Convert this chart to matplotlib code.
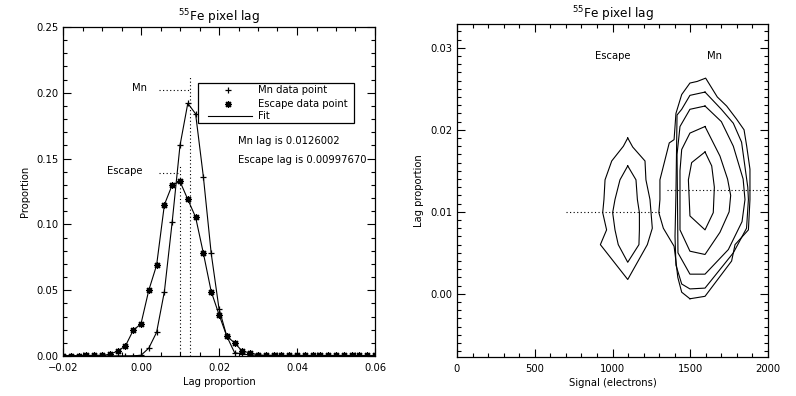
import numpy as np
import matplotlib
matplotlib.use("Agg")
import matplotlib.pyplot as plt
from matplotlib.patches import Rectangle
from matplotlib.ticker import MultipleLocator

plt.rcParams['font.family'] = ['DejaVu Sans']

# ---------------- data: left panel ----------------
lag_bins = [-0.020, -0.018, -0.016, -0.014, -0.012, -0.010, -0.008, -0.006, -0.004, -0.002,
            0.000, 0.002, 0.004, 0.006, 0.008, 0.010, 0.012, 0.014, 0.016, 0.018,
            0.020, 0.022, 0.024, 0.026, 0.028, 0.030, 0.032, 0.034, 0.036, 0.038,
            0.040, 0.042, 0.044, 0.046, 0.048, 0.050, 0.052, 0.054, 0.056, 0.058, 0.060]
mn_prop = [0.0001, 0.0001, 0.0001, 0.0001, 0.0001, 0.0001, 0.0001, 0.0001, 0.0001, 0.0002,
           0.0005, 0.006, 0.018, 0.049, 0.102, 0.160, 0.192, 0.184, 0.136, 0.078,
           0.036, 0.015, 0.0025, 0.0015, 0.0008, 0.0004, 0.0003, 0.0003, 0.0002, 0.0002,
           0.0002, 0.0002, 0.0002, 0.0002, 0.0002, 0.0002, 0.0002, 0.0002, 0.0002, 0.0002, 0.0002]
esc_prop = [0.0003, 0.0003, 0.0002, 0.0004, 0.0005, 0.0006, 0.0012, 0.0038, 0.0076, 0.0195,
            0.0245, 0.050, 0.069, 0.115, 0.130, 0.1326, 0.119, 0.1055, 0.078, 0.049,
            0.0315, 0.015, 0.010, 0.0035, 0.0025, 0.0008, 0.0005, 0.0006, 0.0004, 0.0005,
            0.0006, 0.0004, 0.0005, 0.0004, 0.0005, 0.0004, 0.0005, 0.0004, 0.0004, 0.0004, 0.0004]
peak_names = ["Mn", "Escape"]
peak_lags = [0.0126002, 0.0099767]
peak_heights = [0.1927, 0.1323]
legend_labels = ["Mn data point", "Escape data point", "Fit"]

# ---------------- data: right panel (contour paths) ----------------
esc_outer_sig = [1098, 1070, 995, 952, 945, 937, 962, 922, 1098, 1224, 1256, 1241, 1215, 1209, 1130, 1098]
esc_outer_lag = [0.0190, 0.0180, 0.0162, 0.0139, 0.0115, 0.0099, 0.0078, 0.0060, 0.00175, 0.0060, 0.0080, 0.0115, 0.0139, 0.0162, 0.0179, 0.0190]
esc_inner_sig = [1098, 1048, 1016, 1001, 1016, 1037, 1098, 1170, 1173, 1173, 1160, 1151, 1098]
esc_inner_lag = [0.0156, 0.0139, 0.0115, 0.0099, 0.0078, 0.0060, 0.00385, 0.0060, 0.0078, 0.0099, 0.0115, 0.0139, 0.0156]

mn1_sig = [1498, 1445, 1420, 1408, 1396, 1327, 1298, 1305, 1305, 1365, 1396, 1408, 1445, 1498, 1545, 1599, 1674, 1734, 1798, 1846, 1863, 1884, 1884, 1874, 1788, 1766, 1595, 1498]
mn1_lag = [-0.0006, 0.0002, 0.0020, 0.0040, 0.0058, 0.0080, 0.0099, 0.0115, 0.0139, 0.0184, 0.0188, 0.0220, 0.0243, 0.0257, 0.0259, 0.0263, 0.0240, 0.0229, 0.0213, 0.0200, 0.0180, 0.0152, 0.0115, 0.0078, 0.0060, 0.0040, -0.0003, -0.0006]
mn2_sig = [1595, 1498, 1445, 1415, 1408, 1402, 1408, 1445, 1498, 1595, 1777, 1862, 1874, 1870, 1830, 1777, 1700, 1595]
mn2_lag = [0.0246, 0.0242, 0.0225, 0.0218, 0.0122, 0.0070, 0.0035, 0.0012, 0.0006, 0.0007, 0.0050, 0.0080, 0.0115, 0.0130, 0.0185, 0.0208, 0.0225, 0.0246]
mn3_sig = [1595, 1498, 1434, 1415, 1421, 1498, 1595, 1745, 1833, 1852, 1840, 1777, 1700, 1595]
mn3_lag = [0.0229, 0.0225, 0.0204, 0.0170, 0.0050, 0.0024, 0.0024, 0.0054, 0.0088, 0.0115, 0.0140, 0.0180, 0.0210, 0.0229]
mn4_sig = [1595, 1498, 1445, 1434, 1434, 1498, 1595, 1691, 1750, 1760, 1740, 1691, 1595]
mn4_lag = [0.0204, 0.0196, 0.0176, 0.0150, 0.0078, 0.0052, 0.0048, 0.0075, 0.0100, 0.0120, 0.0140, 0.0168, 0.0204]
mn5_sig = [1595, 1509, 1488, 1498, 1595, 1648, 1655, 1638, 1595]
mn5_lag = [0.0173, 0.0160, 0.0139, 0.0095, 0.0078, 0.0099, 0.0130, 0.0156, 0.0173]

esc_dot_sig = [700, 1305]
mn_dot_sig = [1348, 2000]
label_sig = [1000, 1655]
label_lag = [0.0290, 0.0290]

# ---------------- figure ----------------
fig = plt.figure(figsize=(7.96, 3.96), dpi=100)
ax1 = fig.add_axes([63/796, 1-356/396, 312/796, 329/396])
ax2 = fig.add_axes([457/796, 1-357/396, 311/796, 333/396])

fs = 7.2
dot = (0, (1, 2.2))
lw = 0.8
plus_kw = dict(marker='+', ms=5, mew=0.9)
star_kw = dict(marker=(8, 2, 0), ms=5.0, mew=0.9)

for ax in (ax1, ax2):
    ax.tick_params(which='both', direction='in', top=True, right=True, labelsize=fs, width=0.8)
    ax.tick_params(which='major', length=6)
    ax.tick_params(which='minor', length=3)
    ax.tick_params(axis='x', pad=5)
    ax.tick_params(axis='y', pad=3)
    for s in ax.spines.values():
        s.set_linewidth(0.9)

# left panel
ax1.plot(lag_bins, mn_prop, color='black', lw=lw, **plus_kw)
ax1.plot(lag_bins, esc_prop, color='black', lw=lw, **star_kw)
for name, lg, h in zip(peak_names, peak_lags, peak_heights):
    ax1.plot([lg, lg], [0, 1.1*h], color='black', lw=lw, ls=dot)
    ax1.plot([0.0045, lg], [1.05*h, 1.05*h], color='black', lw=lw, ls=dot)
ax1.text(-0.0003, 1.05*peak_heights[0] + 0.0015, "Mn", ha='center', va='center', fontsize=fs)
ax1.text(-0.0042, 1.05*peak_heights[1] + 0.0015, "Escape", ha='center', va='center', fontsize=fs)

ax1.set_xlim(-0.02, 0.06)
ax1.set_ylim(0, 0.25)
ax1.xaxis.set_major_locator(MultipleLocator(0.02))
ax1.xaxis.set_minor_locator(MultipleLocator(0.005))
ax1.yaxis.set_major_locator(MultipleLocator(0.05))
ax1.yaxis.set_minor_locator(MultipleLocator(0.01))
ax1.xaxis.set_major_formatter(plt.FuncFormatter(lambda v, p: f"{v:.2f}".replace("-", "\u2212")))
ax1.yaxis.set_major_formatter(plt.FuncFormatter(lambda v, p: f"{v:.2f}"))
ax1.set_xlabel("Lag proportion", fontsize=fs, labelpad=3)
ax1.set_ylabel("Proportion", fontsize=fs, labelpad=5)
ax1.set_title(r"$^{55}$Fe pixel lag", fontsize=8.7, pad=3)

# legend box drawn in axes coordinates
T = ax1.transAxes
ax1.add_patch(Rectangle((0.4327, 0.7082), 0.5, 0.1216, transform=T, fill=True,
                        facecolor='white', edgecolor='black', lw=0.9, zorder=5))
rows = [0.8085, 0.766, 0.731]
ax1.plot([0.528], [rows[0]], transform=T, color='black', ls='none', zorder=6, **plus_kw)
ax1.plot([0.528], [rows[1]], transform=T, color='black', ls='none', zorder=6, **star_kw)
ax1.plot([0.4647, 0.6058], [rows[2], rows[2]], transform=T, color='black', lw=lw, zorder=6)
for r, lab in zip(rows, legend_labels):
    ax1.text(0.625, r, lab, transform=T, fontsize=fs, va='center', ha='left', zorder=6)

ax1.text(0.561, 0.6535, f"Mn lag is {peak_lags[0]:.7f}", transform=T,
         fontsize=fs, va='center', ha='left')
ax1.text(0.561, 0.5957, f"Escape lag is {peak_lags[1]:.8f}", transform=T,
         fontsize=fs, va='center', ha='left')

# right panel
for xs, ys in [(esc_outer_sig, esc_outer_lag), (esc_inner_sig, esc_inner_lag),
               (mn1_sig, mn1_lag), (mn2_sig, mn2_lag), (mn3_sig, mn3_lag),
               (mn4_sig, mn4_lag), (mn5_sig, mn5_lag)]:
    ax2.plot(xs, ys, color='black', lw=lw)
ax2.plot(esc_dot_sig, [peak_lags[1]]*2, color='black', lw=lw, ls=dot)
ax2.plot(mn_dot_sig, [peak_lags[0]]*2, color='black', lw=lw, ls=dot)
ax2.text(label_sig[0], label_lag[0], "Escape", ha='center', va='center', fontsize=fs)
ax2.text(label_sig[1], label_lag[1], "Mn", ha='center', va='center', fontsize=fs)

ax2.set_xlim(0, 2000)
ax2.set_ylim(-0.0077, 0.0329)
ax2.xaxis.set_major_locator(MultipleLocator(500))
ax2.xaxis.set_minor_locator(MultipleLocator(100))
ax2.yaxis.set_major_locator(MultipleLocator(0.01))
ax2.yaxis.set_minor_locator(MultipleLocator(0.001))
ax2.yaxis.set_major_formatter(plt.FuncFormatter(lambda v, p: f"{v:.2f}"))
ax2.set_xlabel("Signal (electrons)", fontsize=fs, labelpad=3)
ax2.set_ylabel("Lag proportion", fontsize=fs, labelpad=5)
ax2.set_title(r"$^{55}$Fe pixel lag", fontsize=8.7, pad=3)

fig.savefig("out.png", dpi=100)
